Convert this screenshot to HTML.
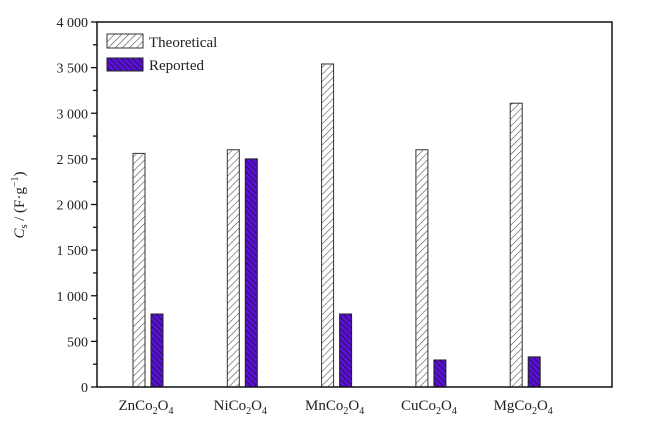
<!DOCTYPE html>
<html><head><meta charset="utf-8"><style>
body{margin:0;background:#fff;width:650px;height:435px;overflow:hidden}
svg text{font-family:"Liberation Serif",serif;fill:#222}
</style></head><body>
<svg id="chart" width="650" height="435">
<defs>
<pattern id="hatchT" width="5" height="5" patternUnits="userSpaceOnUse" patternTransform="rotate(45)">
<rect width="5" height="5" fill="#fff"/><line x1="0" y1="0" x2="0" y2="5" stroke="#555" stroke-width="1.2"/></pattern>
<pattern id="hatchR" width="4" height="4" patternUnits="userSpaceOnUse" patternTransform="rotate(-45)">
<rect width="4" height="4" fill="#5a10d8"/><line x1="0" y1="0" x2="0" y2="4" stroke="#111" stroke-width="1.3"/></pattern>
</defs>
<g id="plot"></g>
</svg>
<script>
const categories=["ZnCo","NiCo","MnCo","CuCo","MgCo"];
const theoretical=[2560,2600,3540,2600,3110];
const reported=[800,2500,800,296,330];
const yTicks=[0,500,1000,1500,2000,2500,3000,3500,4000];
const yTickLabels=["0","500","1 000","1 500","2 000","2 500","3 000","3 500","4 000"];
const X0=97,X1=612,Y0=387,Y1=22;
const y=v=>Y0-(v/4000)*(Y0-Y1);
const cx=i=>148+i*94.3;
const ns="http://www.w3.org/2000/svg";
const g=document.getElementById('plot');
function mk(t,a,txt){const e=document.createElementNS(ns,t);for(const k in a)e.setAttribute(k,a[k]);if(txt!=null)e.textContent=txt;g.appendChild(e);return e;}
categories.forEach((c,i)=>{
 let b=mk('rect',{x:cx(i)-15,y:y(theoretical[i]),width:12,height:Y0-y(theoretical[i]),fill:'url(#hatchT)',stroke:'#333','stroke-width':1});
 
 
 let r=mk('rect',{x:cx(i)+3,y:y(reported[i]),width:12,height:Y0-y(reported[i]),fill:'url(#hatchR)',stroke:'#222','stroke-width':1});
 
 
 let t=mk('text',{x:cx(i)-2,y:410,'font-size':15,'text-anchor':'middle'});
 
 
 t.innerHTML=c+'<tspan font-size="10" dy="4">2</tspan><tspan dy="-4">O</tspan><tspan font-size="10" dy="4">4</tspan>';
});
let fr=mk('rect',{x:X0,y:Y1,width:X1-X0,height:Y0-Y1,fill:'none',stroke:'#111','stroke-width':1.5});


for(let v=0;v<=4000;v+=250){const major=v%500===0;mk('line',{x1:X0-(major?6:4),x2:X0,y1:y(v),y2:y(v),stroke:'#111','stroke-width':1.3});}
yTicks.forEach((v,i)=>{let t=mk('text',{x:X0-9,y:y(v)+5,'font-size':14,'text-anchor':'end'},yTickLabels[i]);
 
 });
let yt=mk('text',{transform:'translate(24,205) rotate(-90)','font-size':15,'text-anchor':'middle'});


yt.innerHTML='<tspan font-style="italic">C</tspan><tspan font-size="10" dy="3">s</tspan><tspan dy="-3"> / (F·g</tspan><tspan font-size="10" dy="-6">−1</tspan><tspan dy="6">)</tspan>';
let l1=mk('rect',{x:107,y:34,width:36,height:14,fill:'url(#hatchT)',stroke:'#333'});

let l1t=mk('text',{x:149,y:47,'font-size':15},'Theoretical');

let l2=mk('rect',{x:107,y:58,width:36,height:13,fill:'url(#hatchR)',stroke:'#222'});

let l2t=mk('text',{x:149,y:70,'font-size':15},'Reported');

</script>
</body></html>
